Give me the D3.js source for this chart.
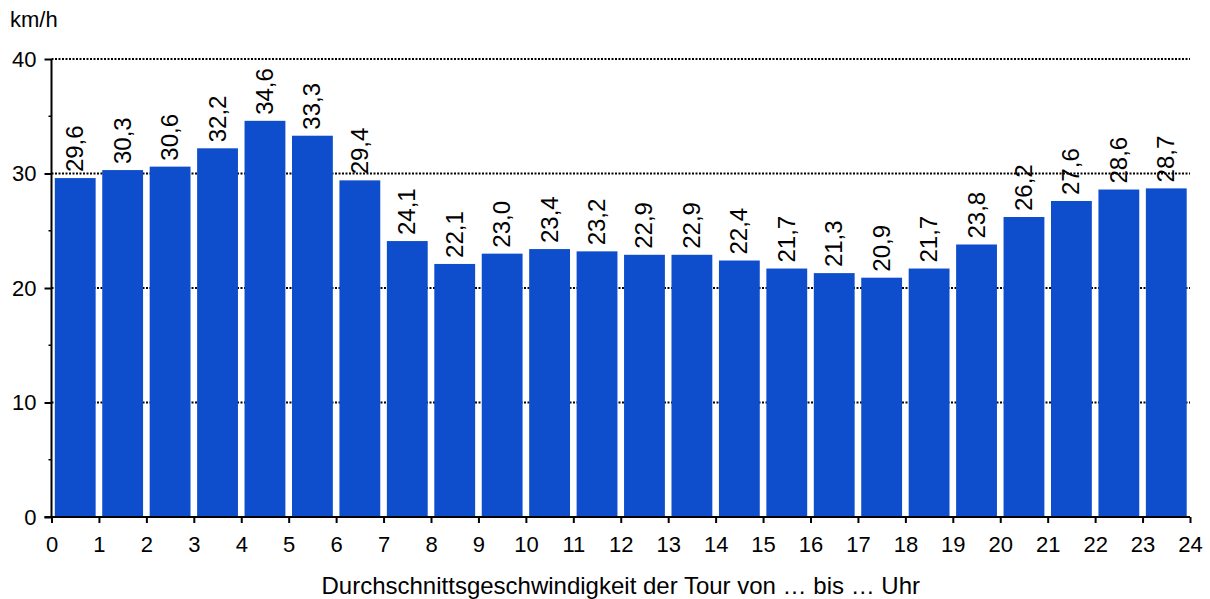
<!DOCTYPE html>
<html>
<head>
<meta charset="utf-8">
<script src="https://cdn.jsdelivr.net/npm/d3@7/dist/d3.min.js"></script>
<style>
  body { margin: 0; background: #fff; }
  svg { font-family: "Liberation Sans", Arial, sans-serif; }
</style>
</head>
<body>
<svg width="1210" height="599"></svg>
<script>
// hours 0..23 (tour from ... to ... o'clock)
var hours = d3.range(0, 24);
var speeds = [29.6, 30.3, 30.6, 32.2, 34.6, 33.3, 29.4, 24.1, 22.1, 23.0, 23.4, 23.2,
              22.9, 22.9, 22.4, 21.7, 21.3, 20.9, 21.7, 23.8, 26.2, 27.6, 28.6, 28.7];
var yTicks = [0, 10, 20, 30, 40],
    yMinor = [5, 15, 25, 35],
    xTicks = d3.range(0, 25);

var svg = d3.select("svg"),
    mLeft = 51.5, mRight = 1190, mTop = 59, mBottom = 517;

var x = d3.scaleLinear().domain([0, 24]).range([mLeft, mRight]),
    y = d3.scaleLinear().domain([0, 40]).range([mBottom, mTop]);

var fmt = function(v){ return v.toFixed(1).replace(".", ","); };

// dotted grid
svg.append("g").selectAll("line")
  .data(yTicks.slice(1))
  .enter().append("line")
    .attr("x1", mLeft).attr("x2", mRight)
    .attr("y1", function(d){return y(d);}).attr("y2", function(d){return y(d);})
    .attr("stroke", "#000").attr("stroke-width", 2)
    .attr("stroke-dasharray", "2,1.5");

// bars
var pad = 3.3;
svg.append("g").selectAll("rect")
  .data(speeds)
  .enter().append("rect")
    .attr("x", function(d, i){return x(hours[i]) + pad;})
    .attr("width", x(1) - x(0) - 2 * pad)
    .attr("y", function(d){return y(d);})
    .attr("height", function(d){return mBottom - y(d);})
    .attr("fill", "#0e4dcb");

// value labels, rotated
svg.append("g").selectAll("text")
  .data(speeds)
  .enter().append("text")
    .attr("transform", function(d, i){
      return "translate(" + (x(hours[i] + 0.5) + 8) + "," + (y(d) - 6) + ") rotate(-90)";
    })
    .attr("font-size", 24)
    .text(fmt);

// y axis
var yAxis = d3.axisLeft(y).tickValues(yTicks).tickSize(7).tickPadding(8);
var gy = svg.append("g").attr("transform", "translate(" + mLeft + ",0)").call(yAxis);
gy.select(".domain").attr("stroke-width", 2).attr("d", "M0," + mBottom + "V" + mTop);
gy.selectAll(".tick line").attr("stroke-width", 2);
gy.selectAll("text").attr("font-size", 22).attr("font-family", "Liberation Sans, Arial, sans-serif").attr("fill", "#000");
gy.selectAll(".minor").data(yMinor).enter().append("line")
  .attr("x1", -3).attr("x2", 0)
  .attr("y1", function(d){return y(d);}).attr("y2", function(d){return y(d);})
  .attr("stroke", "#000").attr("stroke-width", 1.5);

// x axis
var xAxis = d3.axisBottom(x).tickValues(xTicks).tickSize(6).tickPadding(13).tickFormat(d3.format("d"));
var gx = svg.append("g").attr("transform", "translate(0," + mBottom + ")").call(xAxis);
gx.select(".domain").attr("stroke-width", 2).attr("d", "M" + (mLeft - 7) + ",0H" + mRight);
gx.selectAll(".tick line").attr("stroke-width", 2);
gx.selectAll("text").attr("font-size", 22).attr("font-family", "Liberation Sans, Arial, sans-serif").attr("fill", "#000");

// unit and title
svg.append("text").attr("x", 10).attr("y", 27).attr("font-size", 22).text("km/h");
svg.append("text").attr("x", (mLeft + mRight) / 2).attr("y", 594)
  .attr("text-anchor", "middle").attr("font-size", 24)
  .text("Durchschnittsgeschwindigkeit der Tour von … bis … Uhr");
</script>
</body>
</html>
